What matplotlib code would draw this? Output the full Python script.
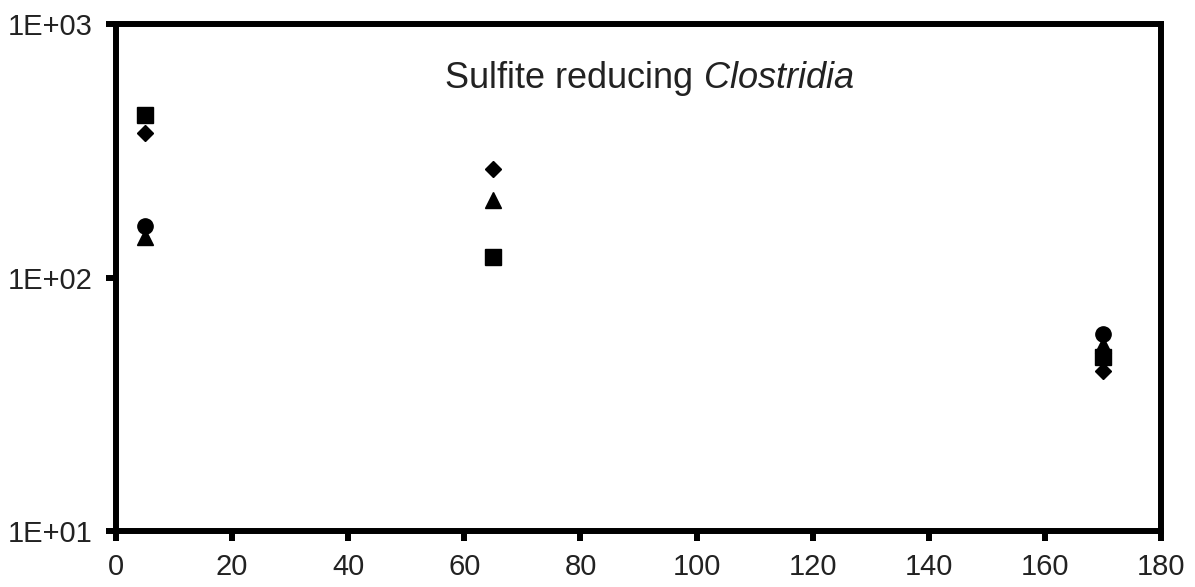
import numpy as np
import matplotlib.pyplot as plt
from matplotlib.ticker import FixedLocator, FuncFormatter, NullLocator

plt.rcParams['font.family'] = ['Liberation Sans', 'DejaVu Sans']
plt.rcParams['mathtext.fontset'] = 'custom'
plt.rcParams['mathtext.rm'] = 'Liberation Sans'
plt.rcParams['mathtext.it'] = 'Liberation Sans:italic'

# sampling days and counts per series
days = [5, 65, 170]
sq_vals = [437, 120, 48.6]
dia_vals = [372, 268, 42.8]
tri_vals = [145, 202, 54]
circ_vals = [160, None, 60]

x_ticks = [0, 20, 40, 60, 80, 100, 120, 140, 160, 180]
y_ticks = [10, 100, 1000]

fig = plt.figure(figsize=(11.95, 5.87), dpi=100)
ax = fig.add_axes([0.0971, 0.0954, 0.8744, 0.8637])

def pts(vals):
    d = [x for x, v in zip(days, vals) if v is not None]
    v = [v for v in vals if v is not None]
    return d, v

ax.plot(*pts(circ_vals), 'o', color='black', ms=11, ls='none')
ax.plot(*pts(tri_vals), '^', color='black', ms=11, ls='none')
ax.plot(*pts(sq_vals), 's', color='black', ms=11.5, ls='none')
ax.plot(*pts(dia_vals), 'D', color='black', ms=8.5, ls='none')

ax.set_yscale('log')
ax.set_xlim(0, 180)
ax.set_ylim(10, 1000)
ax.xaxis.set_major_locator(FixedLocator(x_ticks))
ax.yaxis.set_major_locator(FixedLocator(y_ticks))
ax.yaxis.set_minor_locator(NullLocator())
ax.yaxis.set_major_formatter(FuncFormatter(lambda v, p: '1E+%02d' % round(np.log10(v))))

for s in ax.spines.values():
    s.set_linewidth(4.3)
    s.set_capstyle('projecting')
ax.tick_params(axis='both', which='major', direction='out', length=7, width=4.3,
               labelsize=21, colors='black', labelcolor='#222222', pad=9)
ax.tick_params(axis='y', pad=10)

ax.text(0.51, 0.893, 'Sulfite reducing $\\it{Clostridia}$', transform=ax.transAxes,
        ha='center', va='center', fontsize=26, color='#222222')

fig.savefig('out.png', dpi=100)
